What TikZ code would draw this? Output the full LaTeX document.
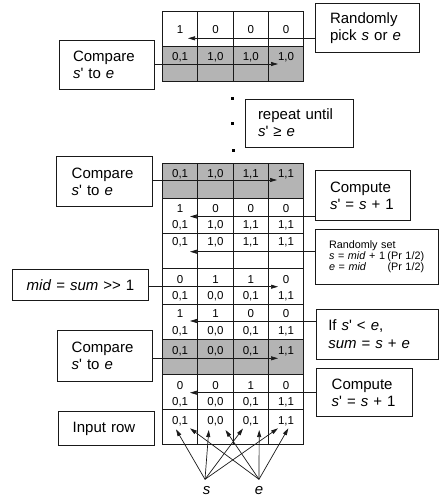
\documentclass[tikz,border=0pt]{standalone}
\usepackage{fontspec}
\newfontfamily\af{Liberation Sans}
\usetikzlibrary{arrows.meta}
\definecolor{greyfill}{RGB}{180,180,180}
\definecolor{linec}{RGB}{25,25,25}
\newcommand\cellrow[3]{\foreach \v [count=\i] in {#3} \node[ct] (#1-\i) at ({162.5+35.3*(\i-0.5)},#2) {\v};}
\begin{document}
\begin{tikzpicture}[x=1pt,y=-1pt,
  gl/.style={draw=linec, line width=0.9pt},
  ct/.style={font=\af\fontsize{11.5}{13}\selectfont, anchor=base, inner sep=0pt},
  arr/.style={-{Triangle[length=7pt,width=4pt]}, line width=0.7pt, draw=linec},
  tbox/.style={draw=linec, line width=0.9pt, font=\af\fontsize{15}{17}\selectfont, align=left, inner ysep=0pt, anchor=center},
  dotm/.style={fill=black, inner sep=0pt, minimum size=3pt},
  lab/.style={font=\af\itshape\fontsize{15}{17}\selectfont, inner sep=0pt, anchor=base},
]
\useasboundingbox (0,0) rectangle (445,498);

% top grid
\fill[greyfill] (162.5,46.7) rectangle (303.7,81.9);
\draw[gl] (162.5,11.5) rectangle (303.7,81.9);
\draw[gl] (162.5,46.7) -- (303.7,46.7);
\foreach \x in {197.8,233.1,268.4} \draw[gl] (\x,11.5) -- (\x,81.9);

% main grid
\fill[greyfill] (162.5,163.3) rectangle (303.7,198.5);
\fill[greyfill] (162.5,339.3) rectangle (303.7,374.5);
\draw[gl] (162.5,163.3) rectangle (303.7,444.9);
\foreach \y in {198.5,233.7,268.9,304.1,339.3,374.5,409.7} \draw[gl] (162.5,\y) -- (303.7,\y);
\foreach \x in {197.8,233.1,268.4} \draw[gl] (\x,163.3) -- (\x,444.9);

% cell texts
\cellrow{rAt}{33.3}{1,0,0,0}
\cellrow{rAb}{60}{{0,1},{1,0},{1,0},{1,0}}
\cellrow{rB}{177.3}{{0,1},{1,0},{1,1},{1,1}}
\cellrow{rCt}{212.3}{1,0,0,0}
\cellrow{rCb}{228}{{0,1},{1,0},{1,1},{1,1}}
\cellrow{rD}{245}{{0,1},{1,0},{1,1},{1,1}}
\cellrow{rEt}{283.3}{0,1,1,0}
\cellrow{rEb}{299}{{0,1},{0,0},{0,1},{1,1}}
\cellrow{rFt}{317.3}{1,1,0,0}
\cellrow{rFb}{334}{{0,1},{0,0},{0,1},{1,1}}
\cellrow{rG}{354}{{0,1},{0,0},{0,1},{1,1}}
\cellrow{rHt}{389}{0,0,1,0}
\cellrow{rHb}{405.7}{{0,1},{0,0},{0,1},{1,1}}
\cellrow{rI}{424}{{0,1},{0,0},{0,1},{1,1}}

% dots
\node[dotm] (d1) at (232.8,98.5) {};
\node[dotm] (d2) at (232.8,123.5) {};
\node[dotm] (d3) at (233.3,150.7) {};

% boxes
\node[tbox, minimum width=104pt, minimum height=49.4pt, inner xsep=15pt, text width=74pt] (rand) at (367,28) {Randomly\\pick \textit{s} or \textit{e}};
\node[tbox, minimum width=95.3pt, minimum height=48.6pt, inner xsep=14pt, text width=67.3pt] (cmp1) at (106.65,65) {Compare\\\textit{s}' to \textit{e}};
\node[tbox, minimum width=108pt, minimum height=48pt, inner xsep=13pt, text width=82pt] (rep) at (299,123) {repeat until\\\textit{s}' ≥ \textit{e}};
\node[tbox, minimum width=95.6pt, minimum height=49.3pt, inner xsep=15pt, text width=65.6pt] (cmp2) at (104.5,181.35) {Compare\\\textit{s}' to \textit{e}};
\node[tbox, minimum width=95.7pt, minimum height=49.3pt, inner xsep=15pt, text width=65.7pt] (comp1) at (362.85,195.35) {Compute\\\textit{s}' = \textit{s} + 1};
\node[tbox, font=\af\fontsize{10.8}{11}\selectfont, minimum width=123.3pt, minimum height=54.7pt, inner xsep=14pt, text width=95.3pt] (rset) at (376.65,256.65) {Randomly set\\\makebox[58.5pt][l]{\textit{s} = \textit{mid} + 1}(Pr~1/2)\\\makebox[58.5pt][l]{\textit{e} = \textit{mid}}(Pr~1/2)};
\node[tbox, align=center, minimum width=135.6pt, minimum height=31.4pt, inner xsep=7.8pt, text width=120pt] (mid) at (80.5,285) {\textit{mid} = \textit{sum} >> 1};
\node[tbox, minimum width=122.3pt, minimum height=49.7pt, inner xsep=12.3pt, text width=97.7pt] (ifb) at (377.15,334.15) {If \textit{s}' < \textit{e},\\[1.4pt]\textit{sum} = \textit{s} + \textit{e}};
\node[tbox, minimum width=95pt, minimum height=51pt, inner xsep=14.4pt, text width=66.2pt] (cmp3) at (104.8,356.2) {Compare\\\textit{s}' to \textit{e}};
\node[tbox, minimum width=95.6pt, minimum height=48.4pt, inner xsep=15pt, text width=65.6pt] (comp2) at (364.5,392.5) {Compute\\\textit{s}' = \textit{s} + 1};
\node[tbox, minimum width=96pt, minimum height=34pt, inner xsep=14.4pt, text width=67.2pt] (inp) at (106.3,428.7) {Input row};

% arrow tips
\coordinate (tA1) at (188,38.3);
\coordinate (tA2) at (278,64);
\coordinate (tB) at (277,180);
\coordinate (tC) at (190,216.5);
\coordinate (tD) at (190,251.7);
\coordinate (tE) at (278,286.7);
\coordinate (tF) at (190,321);
\coordinate (tG) at (278,358.3);
\coordinate (tH) at (190,392.7);
\draw[arr] (rand.west |- tA1) -- (tA1);
\draw[arr] (cmp1.east |- tA2) -- (tA2);
\draw[arr] (cmp2.east |- tB) -- (tB);
\draw[arr] (comp1.west |- tC) -- (tC);
\draw[arr] (rset.west |- tD) -- (tD);
\draw[arr] (mid.east |- tE) -- (tE);
\draw[arr] (ifb.west |- tF) -- (tF);
\draw[arr] (cmp3.east |- tG) -- (tG);
\draw[arr] (comp2.west |- tH) -- (tH);

% s and e
\node[lab] (slab) at (206.5,494) {s};
\node[lab] (elab) at (259,494) {e};
\coordinate (sp) at (205,479.3);
\coordinate (ep) at (259,479.3);
\coordinate (ts1) at (176,429.3);
\coordinate (ts2) at (208.8,430);
\coordinate (ts3) at (243,428.5);
\coordinate (ts4) at (278,428.3);
\coordinate (te1) at (190,428.3);
\coordinate (te2) at (225.5,430);
\coordinate (te3) at (259.2,430);
\coordinate (te4) at (288.3,428.3);
\foreach \t in {ts1,ts2,ts3,ts4} \draw[arr] (sp) -- (\t);
\foreach \t in {te1,te2,te3,te4} \draw[arr] (ep) -- (\t);
\end{tikzpicture}
\end{document}
